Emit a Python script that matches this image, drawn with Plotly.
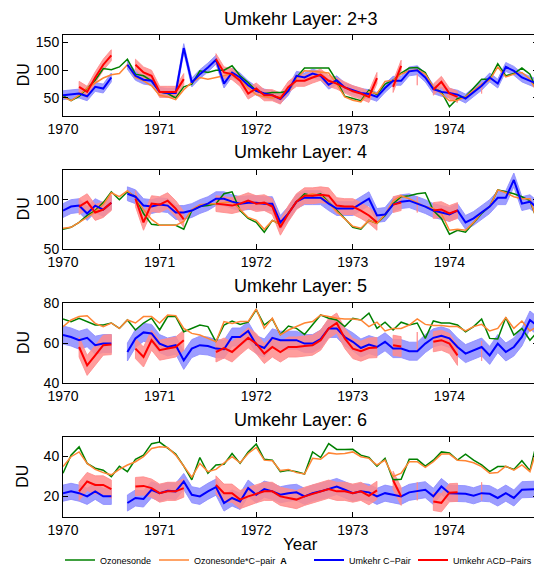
import math
import plotly.graph_objects as go

N = float('nan')
months = list(range(60))
years = [1970 + m / 12 for m in months]
tick_years = [1970, 1971, 1972, 1973, 1974]

titles = ["Umkehr Layer: 2+3", "Umkehr Layer: 4", "Umkehr Layer: 5", "Umkehr Layer: 6"]

# ---- Layer 2+3 ----
g23 = [54,45,53,68,82,103,101,106,120,93, 90,81,61,58,50,70,75,99,96,100,
       100,108,90,78,63,58,60,60,62,87, 104,104,104,104,81,53,49,45,64,56,
       75,82,95,104,105,96,68,61,34,49, 52,69,84,84,112,90,94,104,93,58]
o23 = [52,45,55,68,77,86,92,94,110,87, 81,72,55,52,47,65,78,87,84,87,
       90,95,86,68,56,52,50,53,62,85, 99,98,97,95,75,52,46,43,61,58,
       80,82,93,99,101,93,70,58,45,46, 52,64,75,82,106,88,93,96,84,58]
b23 = [55,56,58,53,70,67,87,N,110,90, 83,81,61,59,59,140,78,93,105,119,
       76,96,87,73,63,58,55,48,63,90, 87,94,90,74,82,69,64,59,57,52,
       68,81,81,98,100,87,66,61,59,56, 49,61,72,87,76,106,99,87,81,75]
r23 = [N,N,70,61,87,110,127,N,N,110, 96,90,61,61,61,84,N,N,N,120,
       96,93,81,58,67,55,55,49,70,81, 81,87,92,81,76,69,62,58,52,86,
       N,70,108,N,83,N,65,79,58,52, N,N,68,N,N,N,N,N,N,N]

# ---- Layer 4 ----
g4 = [70,72,77,84,89,97,108,100,108,103, 86,75,74,74,74,70,89,93,94,96,
      106,108,89,81,77,67,79,75,86,98, 106,104,106,98,89,81,72,70,79,76,
      84,96,103,104,106,107,89,81,65,69, 67,76,86,93,110,108,106,103,99,77]
o4 = [71,72,77,82,88,95,107,103,109,102, 90,80,74,74,74,78,90,95,96,96,
      97,98,90,82,79,70,79,75,86,98, 104,106,104,97,88,80,73,71,79,76,
      85,99,104,101,97,93,91,86,69,70, 69,77,87,93,110,107,103,101,101,75]
b4 = [89,93,94,86,94,90,97,N,106,103, 94,93,95,94,87,87,89,93,96,101,
      101,98,96,97,97,96,96,77,86,98, 102,102,102,96,91,91,91,96,101,84,
      85,95,98,99,96,93,89,87,85,89, 77,81,87,93,102,102,120,96,98,91]
r4 = [N,N,93,98,87,90,97,N,N,101, 77,96,95,99,91,80,N,N,N,96,
      95,94,96,99,96,97,93,72,86,98, 104,104,105,104,94,93,93,89,84,77,
      N,95,97,N,95,N,89,90,86,89, N,N,N,N,N,N,N,N,N,N]

# ---- Layer 5 ----
g5 = [72,70.7,72.4,70.7,69,69,70,67.3,71.5,66.5, 70,72.4,66.5,73.2,73.2,65.6,67.3,69,68.2,60.6,
      69,71,69.3,70.4,76.6,69,72,64.3,68.5,67.3, 64.3,69,74,72.4,71.5,68.2,72.4,71.5,74.9,67.3,
      70.4,66.5,70.4,69,70,62.3,71,70,70,69, 65.6,68.2,72,62.3,62,72.7,64,67.3,61.4,66]
o5 = [68.2,71.5,73.2,73.6,69.8,68.2,70,67.3,71.5,70, 73.2,73.2,70,74,73.7,67.3,64.8,64,62.3,60.6,
      70.7,69.8,70.7,70.7,77,67.3,72.4,64,66.5,68.2, 70,70.7,74,73.2,72.4,72,72,71.5,68.2,70.4,
      66,67.3,67.3,69,72,69.3,68.7,68.7,68.2,68.2, 66,68.2,69.3,66,67.3,72.7,67.3,71,66,68.7]
b5 = [64,63,61.4,62.6,58.9,59.7,59.7,N,55.5,62.3, 65.3,64.8,59.7,58,58.9,51.3,57.2,58.9,58.5,57.2,
      56.9,63,63,66,59.2,57.5,62.6,61.4,61.4,61.4, 59.7,59.7,62,67.3,67.3,63,60.6,57.5,59.2,58,
      60.6,57.2,57.2,55.9,55.9,59.7,62.6,63.6,62.3,58, 54.7,56.4,58,53.8,59.7,55.5,58,63,71.5,68.2]
r5 = [N,N,58,48.8,53.8,58.9,59.2,N,N,57.2, 53,61.4,56.4,57.2,58,61.4,N,N,N,55.5,
      57.5,55.5,59.2,62.6,59.7,54.7,58,55.5,58,58, 58.5,58.9,61.4,67.3,70,62.3,57.2,55.9,57.5,57.7,
      N,58.9,58.2,N,60.5,N,60.6,61.4,59.7,53.8, N,N,56,N,N,N,N,N,N,N]

# ---- Layer 6 ----
g6 = [31.5,40.5,44.6,36.4,34,33,29.8,35,32.3,38.4, 40.5,46.2,47,43.8,41,35,28.2,39.3,31.5,35.6,
      36,41.3,36.4,42,46,38.4,38,32.3,33,32.3, 31.1,42.1,39.3,46.2,43.3,43.3,43.4,40.5,39.3,35,
      38.9,28.2,28.5,38.4,38.4,35,38,42.1,41.6,38, 41,38,35.6,32.3,34.8,34.8,33.4,37.7,32.8,49.5]
o6 = [34.8,39.7,42.1,36.4,33.4,31.8,30.7,33.4,35.6,37.2, 39.7,43.8,44.6,44.3,40.5,34.8,29.5,36.4,32.3,33.4,
      36.4,39.7,36.7,41.3,44.3,38,37.7,32.8,33.4,31.8, 31.1,38.9,38.4,41.6,41,41.3,42.1,39.7,38.9,35.6,
      38,29.8,31.5,37.2,37.2,34.4,37.2,41,41,38, 37.7,36.7,34.8,31.5,31.8,35,33,35.6,32.3,45.4]
b6 = [21.6,22.5,21.6,20,22.5,20,20,N,16.7,19.2, 18.7,23.3,21.6,22.8,22.5,27.4,20.8,20,22.5,24.6,
      16.7,19.2,17.5,24.1,20.8,23.6,22.5,20.8,21.6,22, 20,21.6,22.5,23.6,24.9,23.3,21.6,22.5,22,20,
      21.6,20.8,20,22,22.5,23.3,20,24.9,21.6,21.6, 21.3,20.3,21.6,21.3,19.2,21.6,19.2,23.3,23.3,23.6]
r6 = [N,N,22.5,27.4,25.7,25.7,23.6,N,N,24.9, 25.2,24.1,21.6,22.5,22.5,24.1,N,N,N,25.7,
      21.6,21.6,18.4,20,21.3,22.5,22.5,20,19.2,18.4, 20,21.3,22.5,23.6,22.5,22.5,21.6,22.5,20.3,23,
      N,28,20,N,22.5,N,17.5,16.8,21.8,22, N,N,22.5,N,N,N,N,N,N,N]

panels = [
    dict(g=g23, o=o23, b=b23, r=r23, bw=8, rw=10, yr=[17.5, 164.5], tv=[50, 100, 150]),
    dict(g=g4, o=o4, b=b4, r=r4, bw=7, rw=8, yr=[50, 130.6], tv=[50, 100]),
    dict(g=g5, o=o5, b=b5, r=r5, bw=4.5, rw=5, yr=[40, 80], tv=[40, 60, 80]),
    dict(g=g6, o=o6, b=b6, r=r6, bw=4, rw=4.5, yr=[9.75, 49.75], tv=[20, 40]),
]
for p in panels:
    for k in "gobr":
        assert len(p[k]) == 60, (k, len(p[k]))

names = ["Ozonesonde", "Ozonesonde*C\u2212pair  <b>A</b>", "Umkehr C\u2212Pair", "Umkehr ACD\u2212Pairs"]
GREEN, ORANGE, BLUE, RED = "#008000", "#ff8533", "#0000ff", "#ff0000"
BLUE_BAND, RED_BAND = "rgba(140,140,255,0.85)", "rgba(255,140,140,0.85)"

# The page body has an 8 px margin, so the figure is 8 px smaller and all
# page positions below are given in page pixels and shifted by OFF.
OFF = 8
W, H = 542 - OFF, 568 - OFF
def px_x(p):
    return (p - OFF) / W
def px_y(p):
    return 1 - (p - OFF) / H

LEFT, RIGHT = 63, 538
tops_bottoms = [(34.5, 116), (169.5, 249), (303, 383), (436.5, 517)]
title_y = [19, 152, 286, 420]
legend_x = [60, 154, 309, 413]
legend_ids = ["legend", "legend2", "legend3", "legend4"]

def band(xs, vals, w):
    """Closed polygons (one per contiguous run) for val +/- w."""
    px, py = [], []
    runs, cur = [], []
    for x, v in zip(xs, vals):
        if v is None or (isinstance(v, float) and math.isnan(v)):
            if cur:
                runs.append(cur); cur = []
        else:
            cur.append((x, v))
    if cur:
        runs.append(cur)
    for run in runs:
        rx = [a for a, _ in run]
        up = [v + w for _, v in run]
        lo = [v - w for _, v in run]
        px += rx + rx[::-1] + [rx[0], None]
        py += up + lo[::-1] + [up[0], None]
    return px, py

fig = go.Figure()
FONT = "Liberation Sans, Arial, sans-serif"

for k, p in enumerate(panels):
    xa = "x" if k == 0 else f"x{k+1}"
    ya = "y" if k == 0 else f"y{k+1}"
    bx, by = band(years, p["b"], p["bw"])
    fig.add_trace(go.Scatter(x=bx, y=by, mode="lines", fill="toself", fillcolor=BLUE_BAND,
                             line=dict(color=BLUE_BAND, width=1), hoverinfo="skip",
                             showlegend=False, xaxis=xa, yaxis=ya))
    rx, ry = band(years, p["r"], p["rw"])
    fig.add_trace(go.Scatter(x=rx, y=ry, mode="lines", fill="toself", fillcolor=RED_BAND,
                             line=dict(color=RED_BAND, width=1), hoverinfo="skip",
                             showlegend=False, xaxis=xa, yaxis=ya))
    for j, (key, col, wd) in enumerate([("g", GREEN, 1.5), ("o", ORANGE, 1.5),
                                        ("b", BLUE, 2), ("r", RED, 2)]):
        fig.add_trace(go.Scatter(x=years, y=p[key], mode="lines", name=names[j],
                                 line=dict(color=col, width=wd), connectgaps=False,
                                 showlegend=(k == 0), legend=legend_ids[j],
                                 xaxis=xa, yaxis=ya))

layout = dict(
    width=W, height=H, margin=dict(l=0, r=0, t=0, b=0, autoexpand=False),
    paper_bgcolor="white", plot_bgcolor="white",
    font=dict(family=FONT, size=14, color="black"),
    showlegend=True,
)
for j, lid in enumerate(legend_ids):
    layout[lid] = dict(orientation="h", x=px_x(legend_x[j]), xanchor="left", y=px_y(560),
                       yanchor="middle", font=dict(size=9, family=FONT), itemwidth=30,
                       bgcolor="rgba(0,0,0,0)", borderwidth=0)
annotations = []
for k, p in enumerate(panels):
    t, b = tops_bottoms[k]
    sfx = "" if k == 0 else str(k + 1)
    layout["xaxis" + sfx] = dict(
        domain=[px_x(LEFT), px_x(RIGHT)], anchor="y" + sfx, range=[1970, 1974 + 11 / 12],
        tickvals=tick_years, ticktext=[str(v) for v in tick_years], automargin=False,
        ticks="inside", ticklen=5, tickcolor="black", showline=True, linecolor="black",
        linewidth=1, mirror="ticks", showgrid=False, zeroline=False,
        tickfont=dict(size=14, family=FONT))
    layout["yaxis" + sfx] = dict(
        domain=[px_y(b), px_y(t)], anchor="x" + sfx, range=p["yr"], tickvals=p["tv"],
        automargin=False,
        ticks="inside", ticklen=5, tickcolor="black", showline=True, linecolor="black",
        linewidth=1, mirror="ticks", showgrid=False, zeroline=False,
        tickfont=dict(size=14, family=FONT))
    annotations.append(dict(text=titles[k], x=px_x((LEFT + RIGHT) / 2), y=px_y(title_y[k]),
                            xref="paper", yref="paper", showarrow=False,
                            font=dict(size=18, family=FONT), xanchor="center", yanchor="middle"))
    annotations.append(dict(text="DU", x=px_x(23), y=px_y((t + b) / 2), xref="paper", yref="paper",
                            showarrow=False, textangle=-90, font=dict(size=16, family=FONT),
                            xanchor="center", yanchor="middle"))
annotations.append(dict(text="Year", x=px_x((LEFT + RIGHT) / 2), y=px_y(544), xref="paper",
                        yref="paper", showarrow=False, font=dict(size=17, family=FONT),
                        xanchor="center", yanchor="middle"))
layout["annotations"] = annotations
fig.update_layout(**layout)
fig.write_html("out.html")
